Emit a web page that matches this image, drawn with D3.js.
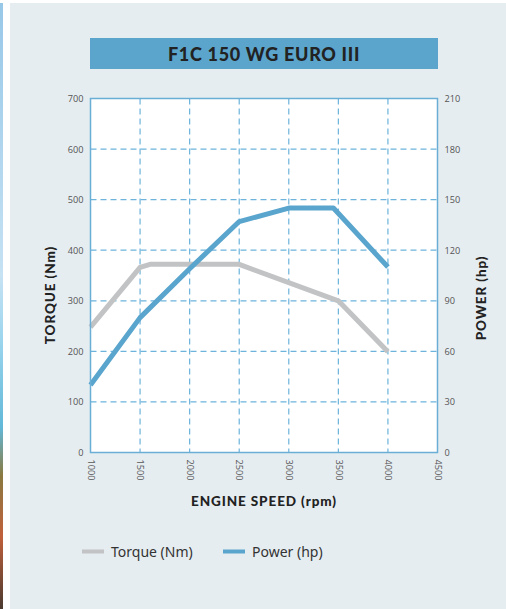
<!DOCTYPE html>
<html><head><meta charset="utf-8">
<script src="https://cdn.jsdelivr.net/npm/d3@7"></script>
<style>
html,body{margin:0;padding:0;background:#fff;}
svg{display:block;}
</style></head>
<body>
<svg id="chart" width="506" height="609"></svg>
<script>
// ---- data ----
const title = "F1C 150 WG EURO III";
const rpmTicks = [1000, 1500, 2000, 2500, 3000, 3500, 4000, 4500];
const torqueTicks = [0, 100, 200, 300, 400, 500, 600, 700];
const powerTicks = [0, 30, 60, 90, 120, 150, 180, 210];
const torqueRpm = [1000, 1500, 1600, 2500, 3500, 4000];
const torqueNm = [248, 366, 372, 372, 300, 199];
const powerRpm = [1000, 1500, 2000, 2500, 3000, 3450, 4000];
const powerHp = [40, 80, 109, 137, 145, 145, 110];
const seriesNames = ["Torque (Nm)", "Power (hp)"];

const svg = d3.select("#chart");
const gray = "#c2c3c5", blue = "#5aa5cd", grid = "#6db3db", frame = "#6aaed6";

// decorative page edge
const grad = svg.append("defs").append("linearGradient").attr("id","edge").attr("x1",0).attr("x2",0).attr("y1",0).attr("y2",1);
[[0,"#98c8e8"],[0.45,"#c6e2f3"],[0.55,"#9ed6ee"],[0.7,"#62b8d8"],[0.78,"#8a7a40"],[0.88,"#c0603a"],[1,"#4a3a30"]].forEach(s=>grad.append("stop").attr("offset",s[0]).attr("stop-color",s[1]));
svg.append("rect").attr("x",0).attr("y",3).attr("width",3).attr("height",606).attr("fill","url(#edge)");
svg.append("rect").attr("x",10).attr("y",3).attr("width",496).attr("height",606).attr("fill","#e6edf1");

const x = d3.scaleLinear().domain([1000, 4500]).range([90.5, 437.5]);
const yT = d3.scaleLinear().domain([0, 700]).range([452.5, 98.5]);
const yP = d3.scaleLinear().domain([0, 210]).range([452.5, 98.5]);

// title banner
svg.append("rect").attr("x",90).attr("y",38).attr("width",348).attr("height",31).attr("fill","#5ba5cc");
svg.append("text").attr("x",264).attr("y",60.5).attr("text-anchor","middle")
  .attr("font-family","Lato, 'Open Sans', sans-serif").attr("font-weight",900).attr("font-size",18)
  .attr("fill","#222").attr("letter-spacing",0.7).text(title);

// plot background
svg.append("rect").attr("x",x(1000)).attr("y",yT(700)).attr("width",x(4500)-x(1000)).attr("height",yT(0)-yT(700)).attr("fill","#fff");

// grid
const gg = svg.append("g").attr("stroke",grid).attr("stroke-width",1.2).attr("stroke-dasharray","6,4");
gg.selectAll("line.v").data(rpmTicks.slice(1,-1)).join("line").attr("class","v")
  .attr("x1",d=>x(d)).attr("x2",d=>x(d)).attr("y1",yT(700)).attr("y2",yT(0));
gg.selectAll("line.h").data(torqueTicks.slice(1,-1)).join("line").attr("class","h")
  .attr("y1",d=>yT(d)).attr("y2",d=>yT(d)).attr("x1",x(1000)).attr("x2",x(4500));

// lines
const tData = torqueRpm.map((r,i)=>[r, torqueNm[i]]);
const pData = powerRpm.map((r,i)=>[r, powerHp[i]]);
svg.append("path").datum(tData).attr("fill","none").attr("stroke",gray).attr("stroke-width",5)
  .attr("stroke-linejoin","round").attr("d", d3.line().x(d=>x(d[0])).y(d=>yT(d[1])));
svg.append("path").datum(pData).attr("fill","none").attr("stroke",blue).attr("stroke-width",5)
  .attr("stroke-linejoin","round").attr("d", d3.line().x(d=>x(d[0])).y(d=>yP(d[1])));

// frame
svg.append("rect").attr("x",x(1000)).attr("y",yT(700)).attr("width",x(4500)-x(1000)).attr("height",yT(0)-yT(700))
  .attr("fill","none").attr("stroke",frame).attr("stroke-width",1.5);

// axes
const font = "'Open Sans', 'Noto Sans', sans-serif";
const left = svg.append("g").attr("transform",`translate(${x(1000)},0)`)
  .call(d3.axisLeft(yT).tickValues(torqueTicks).tickSize(0).tickPadding(7));
const right = svg.append("g").attr("transform",`translate(${x(4500)},0)`)
  .call(d3.axisRight(yP).tickValues(powerTicks).tickSize(0).tickPadding(7));
const bottom = svg.append("g").attr("transform",`translate(0,${yT(0)})`)
  .call(d3.axisBottom(x).tickValues(rpmTicks).tickSize(0).tickFormat(d3.format("d")));
[left,right,bottom].forEach(g=>{g.select(".domain").remove();
  g.selectAll("text").attr("font-family",font).attr("font-size",9.2).attr("fill","#555");});
bottom.selectAll("text").attr("transform","rotate(90)").attr("text-anchor","start")
  .attr("x",7).attr("y",0).attr("dy","0.35em");

// axis titles
const tf = "Lato, 'Open Sans', sans-serif";
svg.append("text").attr("transform",`translate(55,295) rotate(-90)`).attr("text-anchor","middle")
  .attr("font-family",tf).attr("font-weight",900).attr("font-size",13.5).attr("letter-spacing",0.9).attr("fill","#222").text("TORQUE (Nm)");
svg.append("text").attr("transform",`translate(486,298) rotate(-90)`).attr("text-anchor","middle")
  .attr("font-family",tf).attr("font-weight",900).attr("font-size",13.5).attr("letter-spacing",0.9).attr("fill","#222").text("POWER (hp)");
svg.append("text").attr("x",264).attr("y",505.5).attr("text-anchor","middle")
  .attr("font-family",tf).attr("font-weight",900).attr("font-size",13.5).attr("letter-spacing",0.9).attr("fill","#222").text("ENGINE SPEED (rpm)");

// legend
const lg = svg.append("g");
const lx = [82, 223], cols = [gray, blue];
seriesNames.forEach((n,i)=>{
  lg.append("line").attr("x1",lx[i]).attr("x2",lx[i]+22).attr("y1",551.5).attr("y2",551.5)
    .attr("stroke",cols[i]).attr("stroke-width",4);
  lg.append("text").attr("x",lx[i]+29).attr("y",556.5).attr("font-family","'Noto Sans', 'Open Sans', sans-serif")
    .attr("font-size",14).attr("fill","#333").text(n);
});
</script>
</body></html>
